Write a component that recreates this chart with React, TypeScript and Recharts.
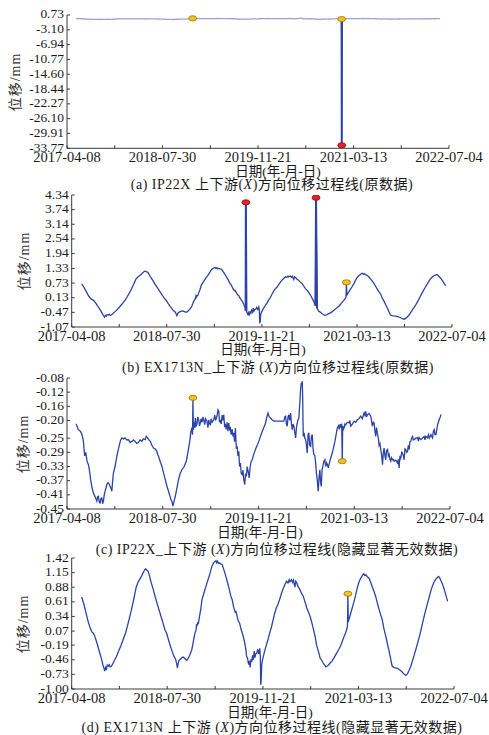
import React from "react";
import { ComposedChart, Line, Scatter, XAxis, YAxis } from "recharts";

type Pt = [number, number];

// 横轴刻度(日期), 数据横坐标为距 2017-04-08 的天数
const dateTicks = ["2017-04-08", "2018-07-30", "2019-11-21", "2021-03-13", "2022-07-04"];

// 纵轴刻度
const yTicksA = ["0.73", "-3.10", "-6.94", "-10.77", "-14.60", "-18.44", "-22.27", "-26.10", "-29.91", "-33.77"];
const yTicksB = ["4.34", "3.74", "3.14", "2.54", "1.94", "1.33", "0.73", "0.13", "-0.47", "-1.07"];
const yTicksC = ["-0.08", "-0.12", "-0.16", "-0.20", "-0.25", "-0.29", "-0.33", "-0.37", "-0.41", "-0.45"];
const yTicksD = ["1.42", "1.15", "0.88", "0.61", "0.34", "0.07", "-0.19", "-0.46", "-0.73", "-1.00"];

// IP22X 上下游位移 (天, mm)
const ip22xBase: Pt[] = [
  [45, -0.209], [57, -0.226], [68, -0.231], [75, -0.24], [82, -0.259], [88, -0.3], [94, -0.29], [100, -0.315],
  [107, -0.325], [112, -0.34], [118, -0.367], [125, -0.39], [132, -0.405], [140, -0.415], [149, -0.428], [153, -0.415],
  [157, -0.414], [161, -0.43], [165, -0.433], [170, -0.42], [174, -0.419], [178, -0.435], [182, -0.428], [186, -0.41],
  [190, -0.4], [195, -0.39], [199, -0.381], [203, -0.376], [207, -0.376], [211, -0.38], [215, -0.386], [220, -0.392],
  [224, -0.4], [228, -0.37], [232, -0.348], [240, -0.33], [249, -0.301], [255, -0.285], [262, -0.268], [268, -0.255],
  [274, -0.249], [282, -0.252], [290, -0.249], [298, -0.255], [307, -0.254], [315, -0.262], [324, -0.259], [332, -0.255],
  [340, -0.259], [348, -0.265], [357, -0.262], [365, -0.255], [374, -0.259], [382, -0.252], [391, -0.254], [396, -0.245],
  [402, -0.249], [409, -0.255], [416, -0.259], [424, -0.27], [432, -0.278], [440, -0.28], [449, -0.287], [453, -0.296],
  [457, -0.301], [465, -0.315], [474, -0.329], [482, -0.348], [491, -0.367], [499, -0.385], [507, -0.4], [515, -0.415],
  [520, -0.425], [524, -0.428], [529, -0.442], [534, -0.43], [541, -0.414], [549, -0.39], [557, -0.367], [565, -0.35],
  [574, -0.339], [585, -0.33], [596, -0.315], [604, -0.29], [613, -0.259], [619, -0.231], [624, -0.22], [627, -0.24],
  [631, -0.226], [635, -0.205], [638, -0.22], [641, -0.193], [645, -0.215], [649, -0.21], [653, -0.19], [658, -0.198],
  [662, -0.215], [666, -0.207], [670, -0.195], [675, -0.205], [679, -0.19], [683, -0.198], [688, -0.212], [692, -0.195],
  [699, -0.202], [704, -0.22], [708, -0.198], [712, -0.21], [716, -0.212], [720, -0.195], [725, -0.205], [733, -0.198],
  [738, -0.185], [742, -0.2], [749, -0.188], [754, -0.17], [758, -0.174], [762, -0.205], [766, -0.198], [770, -0.21],
  [775, -0.185], [779, -0.2], [783, -0.184], [787, -0.215], [791, -0.212], [795, -0.225], [800, -0.205], [804, -0.23],
  [808, -0.207], [812, -0.225], [816, -0.221], [820, -0.24], [825, -0.225], [829, -0.245], [833, -0.235], [837, -0.26],
  [841, -0.221], [846, -0.28], [850, -0.273], [854, -0.3], [858, -0.287], [862, -0.33], [866, -0.32], [870, -0.35],
  [875, -0.353], [879, -0.34], [883, -0.367], [888, -0.381], [892, -0.35], [896, -0.358], [900, -0.33], [903, -0.339],
  [907, -0.35], [910, -0.362], [915, -0.33], [920, -0.315], [925, -0.311], [933, -0.295], [941, -0.282], [950, -0.27],
  [958, -0.259], [966, -0.245], [975, -0.231], [983, -0.22], [992, -0.207], [998, -0.19], [1004, -0.179], [1010, -0.19],
  [1016, -0.193], [1024, -0.198], [1033, -0.202], [1040, -0.202], [1050, -0.202], [1058, -0.202], [1066, -0.202],
  [1075, -0.202], [1083, -0.202], [1088, -0.19], [1092, -0.188], [1096, -0.21], [1100, -0.216], [1104, -0.19],
  [1108, -0.184], [1112, -0.2], [1117, -0.179], [1121, -0.21], [1125, -0.226], [1129, -0.21], [1133, -0.216],
  [1138, -0.235], [1142, -0.249], [1146, -0.22], [1150, -0.207], [1154, -0.198], [1158, -0.193], [1163, -0.15],
  [1167, -0.11], [1170, -0.094], [1173, -0.1], [1175, -0.089], [1177, -0.13], [1180, -0.245], [1184, -0.235],
  [1188, -0.25], [1192, -0.254], [1196, -0.27], [1200, -0.292], [1204, -0.24], [1208, -0.235], [1212, -0.27],
  [1217, -0.273], [1221, -0.245], [1225, -0.24], [1229, -0.28], [1233, -0.296], [1238, -0.3], [1242, -0.32],
  [1246, -0.35], [1250, -0.367], [1253, -0.39], [1255, -0.4], [1259, -0.36], [1263, -0.339], [1266, -0.37],
  [1270, -0.386], [1274, -0.34], [1278, -0.329], [1283, -0.315], [1288, -0.311], [1292, -0.33], [1297, -0.32],
  [1301, -0.325], [1305, -0.334], [1315, -0.31], [1325, -0.292], [1338, -0.26], [1350, -0.221], [1356, -0.215],
  [1360, -0.225], [1364, -0.21], [1368, -0.22], [1372, -0.209], [1377, -0.215], [1380, -0.226], [1384, -0.221],
  [1388, -0.21], [1392, -0.212], [1400, -0.205], [1409, -0.207], [1413, -0.2], [1417, -0.216], [1425, -0.21],
  [1434, -0.202], [1442, -0.205], [1450, -0.198], [1458, -0.195], [1467, -0.188], [1475, -0.195], [1484, -0.179],
  [1488, -0.185], [1492, -0.174], [1496, -0.19], [1500, -0.184], [1508, -0.18], [1517, -0.188], [1521, -0.2],
  [1525, -0.216], [1530, -0.205], [1534, -0.207], [1538, -0.23], [1542, -0.245], [1546, -0.22], [1550, -0.235],
  [1555, -0.25], [1559, -0.27], [1563, -0.265], [1567, -0.282], [1572, -0.3], [1576, -0.325], [1580, -0.29],
  [1584, -0.278], [1588, -0.3], [1592, -0.311], [1596, -0.285], [1601, -0.282], [1605, -0.3], [1609, -0.296],
  [1613, -0.31], [1617, -0.315], [1621, -0.305], [1626, -0.311], [1630, -0.31], [1634, -0.315], [1642, -0.312],
  [1651, -0.32], [1655, -0.31], [1659, -0.334], [1663, -0.3], [1667, -0.306], [1672, -0.29], [1676, -0.292],
  [1680, -0.3], [1684, -0.311], [1688, -0.28], [1692, -0.282], [1697, -0.29], [1701, -0.287], [1705, -0.27],
  [1709, -0.282], [1713, -0.26], [1717, -0.259], [1721, -0.25], [1726, -0.245], [1730, -0.255], [1734, -0.254],
  [1742, -0.25], [1751, -0.249], [1755, -0.258], [1759, -0.248], [1767, -0.254], [1775, -0.25], [1784, -0.245],
  [1788, -0.255], [1792, -0.245], [1801, -0.249], [1805, -0.24], [1810, -0.25], [1818, -0.24], [1822, -0.245],
  [1826, -0.249], [1830, -0.23], [1834, -0.226], [1838, -0.24], [1843, -0.24], [1847, -0.225], [1851, -0.212],
  [1855, -0.205], [1859, -0.198], [1864, -0.19], [1868, -0.183],
];
const ip22xSuspect: Pt[] = [[629, -0.136], [1375, -0.315]]; // 黄色点
const ip22xInvalid: Pt[] = [[1376, -33.0]]; // 红色点(显著无效)

// EX1713N 上下游位移 (天, mm)
const ex1713nBase: Pt[] = [
  [50, 0.7], [60, 0.58], [72, 0.4], [82, 0.25], [92, 0.13], [100, 0.06], [108, 0.03], [114, -0.01], [122, -0.1],
  [131, -0.21], [140, -0.33], [148, -0.43], [156, -0.55], [162, -0.62], [165, -0.67], [170, -0.6], [174, -0.63],
  [178, -0.56], [183, -0.58], [188, -0.55], [193, -0.59], [198, -0.58], [205, -0.54], [214, -0.47], [224, -0.4],
  [235, -0.3], [246, -0.2], [257, -0.09], [270, 0.04], [280, 0.18], [291, 0.34], [300, 0.48], [310, 0.65], [318, 0.8],
  [324, 0.9], [333, 0.98], [341, 1.03], [349, 1.08], [356, 1.14], [362, 1.18], [366, 1.21], [370, 1.22], [374, 1.2],
  [378, 1.19], [383, 1.17], [390, 1.08], [398, 0.96], [408, 0.84], [418, 0.7], [430, 0.55], [442, 0.4], [452, 0.28],
  [460, 0.18], [466, 0.1], [475, 0.03], [485, -0.1], [495, -0.22], [503, -0.31], [509, -0.37], [515, -0.42],
  [520, -0.45], [525, -0.53], [529, -0.61], [532, -0.54], [537, -0.47], [541, -0.46], [546, -0.44], [552, -0.42],
  [558, -0.41], [564, -0.43], [570, -0.45], [576, -0.47], [582, -0.44], [590, -0.38], [596, -0.32], [601, -0.27],
  [606, -0.18], [612, -0.05], [618, 0.05], [622, 0.08], [625, 0.2], [627, 0.16], [630, 0.22], [634, 0.21], [640, 0.35],
  [646, 0.48], [652, 0.65], [660, 0.75], [668, 0.85], [677, 0.96], [685, 1.05], [693, 1.15], [702, 1.27], [710, 1.33],
  [716, 1.35], [722, 1.37], [726, 1.33], [730, 1.36], [735, 1.32], [740, 1.33], [745, 1.31], [753, 1.3], [760, 1.22],
  [770, 1.1], [778, 0.99], [788, 0.85], [795, 0.73], [803, 0.65], [810, 0.52], [818, 0.42], [822, 0.43], [828, 0.34],
  [834, 0.25], [840, 0.22], [846, 0.12], [854, 0.03], [860, -0.05], [866, -0.15], [872, -0.28], [875, -0.4],
  [879, -0.42], [883, -0.5], [886, -0.55], [889, -0.48], [893, -0.6], [897, -0.45], [901, -0.5], [905, -0.38],
  [909, -0.46], [913, -0.3], [917, -0.42], [921, -0.35], [926, -0.34], [931, -0.27], [936, -0.35], [941, -0.25],
  [944, -0.4], [946, -0.92], [948, -0.85], [951, -0.55], [955, -0.46], [962, -0.35], [970, -0.24], [982, -0.09],
  [992, 0.05], [1000, 0.15], [1008, 0.28], [1016, 0.4], [1024, 0.5], [1032, 0.56], [1040, 0.65], [1050, 0.77],
  [1058, 0.85], [1066, 0.92], [1075, 0.99], [1082, 0.96], [1088, 1.02], [1092, 0.98], [1100, 1.02], [1105, 0.97],
  [1110, 1.01], [1114, 0.93], [1117, 0.88], [1121, 0.99], [1126, 0.96], [1132, 0.9], [1140, 0.85], [1150, 0.77],
  [1159, 0.71], [1168, 0.6], [1176, 0.5], [1185, 0.42], [1193, 0.34], [1200, 0.25], [1208, 0.13], [1218, -0.03],
  [1226, -0.2], [1234, -0.3], [1240, -0.38], [1243, -0.43], [1250, -0.46], [1258, -0.52], [1266, -0.56],
  [1272, -0.59], [1277, -0.58], [1284, -0.56], [1293, -0.52], [1302, -0.49], [1312, -0.43], [1322, -0.36],
  [1336, -0.27], [1346, -0.2], [1356, -0.1], [1364, -0.02], [1370, 0.03], [1376, 0.1], [1380, 0.16], [1384, 0.24],
  [1390, 0.32], [1400, 0.45], [1411, 0.59], [1420, 0.72], [1428, 0.85], [1436, 0.96], [1444, 1.03], [1452, 1.08],
  [1458, 1.12], [1462, 1.13], [1466, 1.1], [1472, 1.11], [1480, 1.07], [1487, 1.05], [1495, 0.98], [1505, 0.88],
  [1513, 0.8], [1521, 0.71], [1530, 0.58], [1538, 0.47], [1546, 0.37], [1554, 0.28], [1562, 0.12], [1570, 0.0],
  [1579, -0.15], [1587, -0.28], [1595, -0.42], [1600, -0.52], [1604, -0.58], [1612, -0.6], [1620, -0.61],
  [1630, -0.62], [1638, -0.64], [1646, -0.66], [1655, -0.69], [1664, -0.73], [1672, -0.75], [1680, -0.72],
  [1688, -0.66], [1697, -0.58], [1705, -0.48], [1714, -0.37], [1722, -0.27], [1732, -0.14], [1742, 0.0], [1756, 0.22],
  [1766, 0.38], [1778, 0.55], [1790, 0.71], [1800, 0.85], [1808, 0.93], [1815, 0.99], [1822, 1.03], [1830, 1.06],
  [1836, 1.08], [1842, 1.05], [1848, 1.0], [1856, 0.93], [1864, 0.84], [1872, 0.74], [1881, 0.62],
];
const ex1713nSuspect: Pt[] = [[1382, 0.76]];
const ex1713nInvalid: Pt[] = [[876, 4.04], [1229, 4.23]];

const SERIF = "'Liberation Serif', 'Times New Roman', 'Noto Sans CJK SC', serif";
const LINE = "#2c43a8";
const AXIS = "#3a3a3a";

const day0 = Date.parse(dateTicks[0]);
const majorDays = dateTicks.map((d) => Math.round((Date.parse(d) - day0) / 86400000));
const xTicks: number[] = [];
majorDays.forEach((d, i) => {
  xTicks.push(d);
  if (i < majorDays.length - 1) xTicks.push(Math.round((d + majorDays[i + 1]) / 2));
});

type Row = { d: number; v: number };

const toRows = (...parts: Pt[][]): Row[] =>
  parts
    .flat()
    .sort((a, b) => a[0] - b[0])
    .map(([d, v]) => ({ d, v }));

// 每个无效点与其前后相邻点, 用于加粗画出跳变竖线
const spikes = (rows: Row[], bad: Pt[]) =>
  bad.map(([d]) => {
    const i = rows.findIndex((r) => r.d === d);
    return rows.slice(Math.max(0, i - 1), i + 2);
  });

const XTick = (props: any) => {
  const { x, y, payload } = props;
  const i = majorDays.indexOf(payload.value);
  return (
    <g>
      <line x1={x} y1={y} x2={x} y2={y - 3} stroke={AXIS} strokeWidth={1} />
      {i >= 0 && (
        <text x={x} y={y + 13.5} textAnchor="middle" fontFamily={SERIF} fontSize={14.5} fill="#1a1a1a">
          {dateTicks[i]}
        </text>
      )}
    </g>
  );
};

const makeYTick = (labels: string[]) => (props: any) => {
  const { x, y, payload } = props;
  const label = labels.reduce((best, l) =>
    Math.abs(Number(l) - payload.value) < Math.abs(Number(best) - payload.value) ? l : best
  );
  return (
    <g>
      <line x1={x} y1={y} x2={x + 3} y2={y} stroke={AXIS} strokeWidth={1} />
      <text x={x - 3} y={y + 3.5} textAnchor="end" fontFamily={SERIF} fontSize={13.5} fill="#1a1a1a">
        {label}
      </text>
    </g>
  );
};

const Marker = (color: string, edge: string) => (props: any) =>
  <ellipse cx={props.cx} cy={props.cy} rx={4} ry={2.6} fill={color} stroke={edge} strokeWidth={0.8} />;
const Yellow = Marker("#f3c21c", "#9a7400");
const Red = Marker("#e3202b", "#8a1010");

type PanelProps = {
  plotTop: number;
  plotBottom: number;
  plotLeft: number;
  plotRight: number;
  yTicks: string[];
  line: Row[];
  spikeLines?: Row[][];
  yellow: Row[];
  red?: Row[];
  lineColor?: string;
  yLabelX: number;
  titleX: number;
  titleY: number;
  captionX: number;
  captionY: number;
  caption: React.ReactNode;
};

function Panel(p: PanelProps) {
  const nums = p.yTicks.map(Number);
  const h = p.plotBottom - p.plotTop;
  const xh = 25;
  return (
    <>
      <div style={{ position: "absolute", left: 0, top: p.plotTop - 10 }}>
        <ComposedChart
          width={489}
          height={h + 10 + xh}
          margin={{ top: 10, right: 489 - p.plotRight, bottom: 0, left: 0 }}
        >
          <XAxis
            dataKey="d"
            type="number"
            domain={[0, majorDays[majorDays.length - 1]]}
            ticks={xTicks}
            allowDataOverflow
            height={xh}
            tickSize={0}
            tickMargin={0}
            tickLine={false}
            axisLine={{ stroke: AXIS }}
            tick={<XTick />}
            interval={0}
          />
          <YAxis
            dataKey="v"
            type="number"
            domain={[Math.min(...nums), Math.max(...nums)]}
            ticks={nums}
            allowDataOverflow
            width={p.plotLeft}
            tickSize={0}
            tickMargin={0}
            tickLine={false}
            axisLine={{ stroke: AXIS }}
            tick={makeYTick(p.yTicks)}
            interval={0}
          />
          <Line
            data={p.line}
            dataKey="v"
            stroke={p.lineColor || LINE}
            strokeWidth={1.3}
            dot={false}
            isAnimationActive={false}
          />
          {(p.spikeLines || []).map((s, i) => (
            <Line
              key={i}
              data={s}
              dataKey="v"
              stroke={LINE}
              strokeWidth={2}
              dot={false}
              isAnimationActive={false}
            />
          ))}
          <Scatter data={p.yellow} shape={Yellow} isAnimationActive={false} />
          {p.red && <Scatter data={p.red} shape={Red} isAnimationActive={false} />}
        </ComposedChart>
      </div>
      <div
        style={{
          position: "absolute",
          left: p.yLabelX,
          top: (p.plotTop + p.plotBottom) / 2,
          transform: "translate(-50%, -50%) rotate(-90deg)",
          whiteSpace: "nowrap",
          fontFamily: SERIF,
          fontSize: 14,
          letterSpacing: 1,
          color: "#333",
        }}
      >
        位移/mm
      </div>
      <div
        style={{
          position: "absolute",
          left: p.titleX,
          top: p.titleY,
          transform: "translate(-50%, -50%)",
          whiteSpace: "nowrap",
          fontFamily: SERIF,
          fontSize: 13.5,
          color: "#1a1a1a",
        }}
      >
        日期(年-月-日)
      </div>
      <div
        style={{
          position: "absolute",
          left: p.captionX,
          top: p.captionY,
          transform: "translate(-50%, -50%)",
          whiteSpace: "nowrap",
          fontFamily: SERIF,
          fontSize: 14,
          lineHeight: "15px",
          letterSpacing: 0.5,
          color: "#1a1a1a",
        }}
      >
        {p.caption}
      </div>
    </>
  );
}

export default function App() {
  const ipRaw = toRows(ip22xBase, ip22xSuspect, ip22xInvalid);
  const ipClean = toRows(ip22xBase, ip22xSuspect);
  const exRaw = toRows(ex1713nBase, ex1713nSuspect, ex1713nInvalid);
  const exClean = toRows(ex1713nBase, ex1713nSuspect);
  const ipSus = toRows(ip22xSuspect);
  const exSus = toRows(ex1713nSuspect);

  return (
    <div style={{ position: "absolute", left: 0, top: 0, width: 489, height: 735, background: "#fff", overflow: "hidden" }}>
      <Panel
        plotTop={15}
        plotBottom={148.3}
        plotLeft={67}
        plotRight={449}
        yTicks={yTicksA}
        line={ipRaw}
        lineColor="#98a3d2"
        spikeLines={spikes(ipRaw, ip22xInvalid)}
        yellow={ipSus}
        red={toRows(ip22xInvalid)}
        yLabelX={14}
        titleX={278}
        titleY={170}
        captionX={272}
        captionY={184}
        caption={<>(a) IP22X 上下游(<i>X</i>)方向位移过程线(原数据)</>}
      />
      <Panel
        plotTop={194.5}
        plotBottom={326.5}
        plotLeft={71.7}
        plotRight={452}
        yTicks={yTicksB}
        line={exRaw}
        spikeLines={spikes(exRaw, ex1713nInvalid)}
        yellow={exSus}
        red={toRows(ex1713nInvalid)}
        yLabelX={23}
        titleX={263}
        titleY={348}
        captionX={278}
        captionY={367}
        caption={<>(b) EX1713N_上下游 (<i>X</i>)方向位移过程线(原数据)</>}
      />
      <Panel
        plotTop={378.3}
        plotBottom={509.3}
        plotLeft={67}
        plotRight={450}
        yTicks={yTicksC}
        line={ipClean}
        yellow={ipSus}
        yLabelX={22}
        titleX={260}
        titleY={531}
        captionX={277}
        captionY={549}
        caption={<>(c) IP22X_上下游 (<i>X</i>)方向位移过程线(隐藏显著无效数据)</>}
      />
      <Panel
        plotTop={558.3}
        plotBottom={689.3}
        plotLeft={71.7}
        plotRight={454}
        yTicks={yTicksD}
        line={exClean}
        yellow={exSus}
        yLabelX={22}
        titleX={270}
        titleY={711}
        captionX={272}
        captionY={726.5}
        caption={<>(d) EX1713N 上下游 (<i>X</i>)方向位移过程线(隐藏显著无效数据)</>}
      />
    </div>
  );
}
